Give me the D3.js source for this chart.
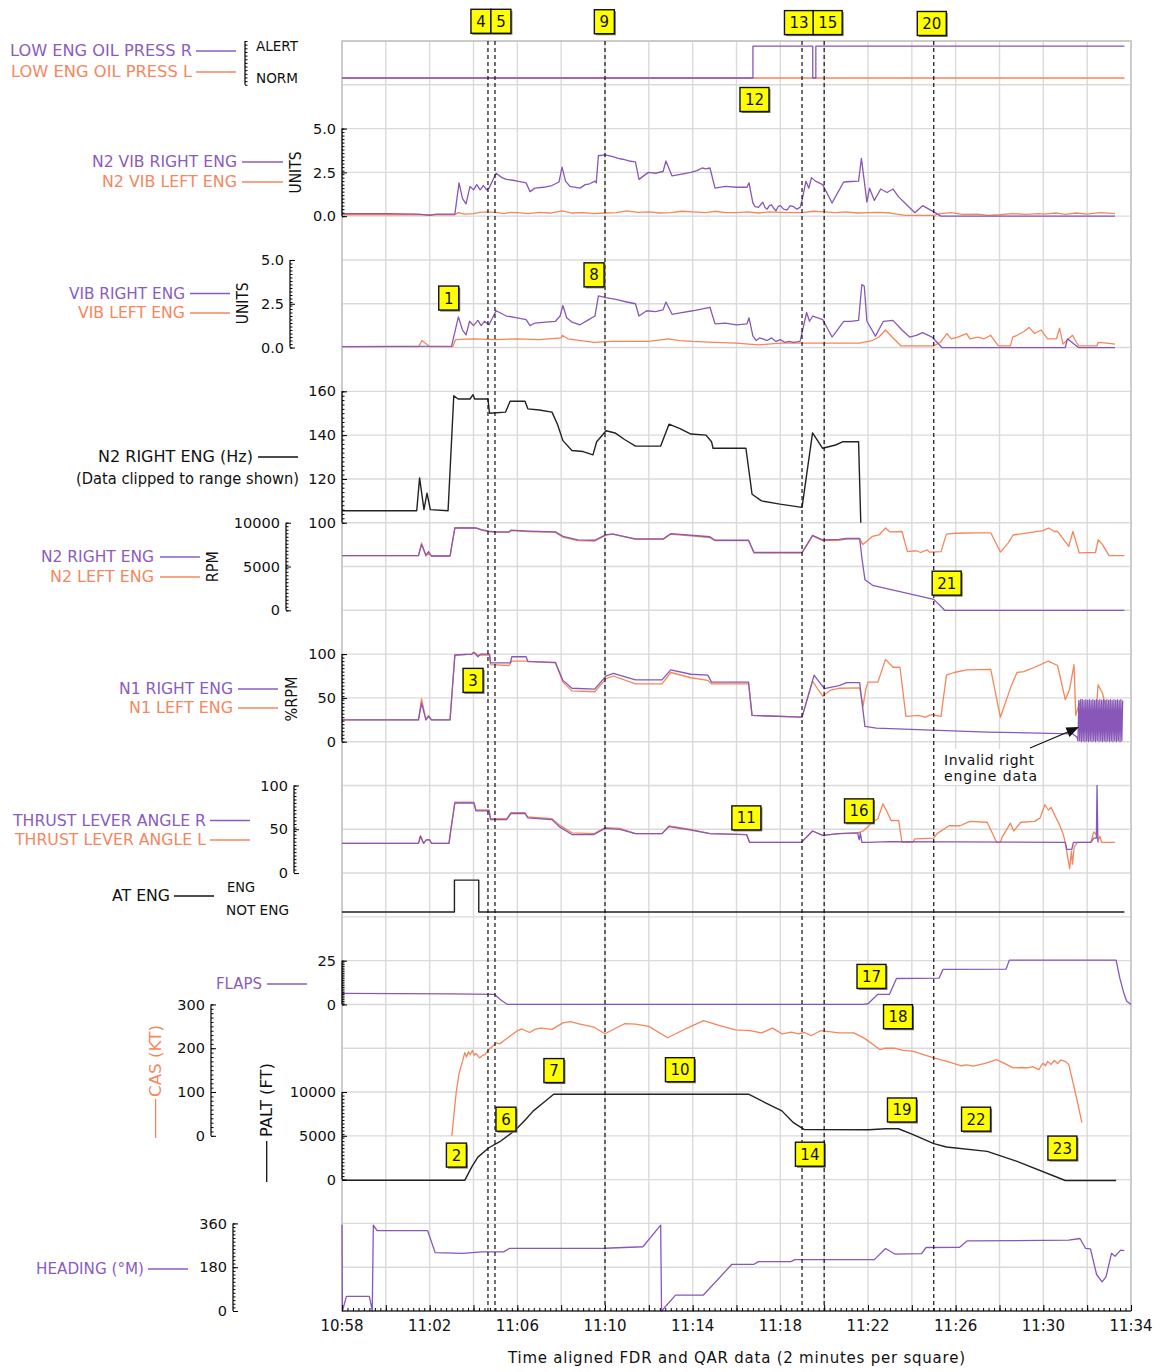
<!doctype html>
<html lang="en">
<head>
<meta charset="utf-8">
<title>Engine parameters, FDR and QAR data</title>
<script src="https://d3js.org/d3.v7.min.js"></script>
<style>
  body { margin: 0; background: #fff; }
  svg text { font-family: "DejaVu Sans", sans-serif; }
</style>
</head>
<body>
<svg id="chart" width="1163" height="1372"></svg>
<script>
// time is minutes after 10:58
const timeTicks = ['10:58','11:02','11:06','11:10','11:14','11:18','11:22','11:26','11:30','11:34'];

const OIL_R = [[0,0],[18.75,0],[18.75,1],[21.48,1],[21.48,0],[21.62,0],[21.62,1],[35.7,1]];
const OIL_L = [[0,0],[35.7,0]];

const N2VIB_R = [[0,0.15],[2,0.15],[3.5,0.12],[4.0,0.05],[4.3,0.12],[5.15,0.12],[5.34,1.9],[5.5,1.0],[5.66,0.7],[5.84,1.7],[6.0,1.5],[6.15,1.8],[6.3,1.5],[6.45,1.75],[6.6,1.5],[6.71,1.6],[7.03,2.45],[7.3,2.2],[7.5,2.1],[7.8,2.05],[8.0,2.0],[8.4,1.9],[8.58,1.4],[8.8,1.6],[9.2,1.65],[9.58,1.75],[9.9,1.95],[10.04,2.8],[10.2,2.0],[10.4,1.7],[10.86,1.6],[11.1,1.8],[11.3,1.85],[11.54,2.0],[11.6,1.9],[11.7,3.45],[12.0,3.5],[12.36,3.4],[12.6,3.3],[12.8,3.25],[13.1,3.15],[13.39,3.1],[13.55,2.1],[13.98,2.5],[14.3,2.45],[14.65,2.55],[14.78,3.15],[15.06,2.3],[15.5,2.4],[15.92,2.5],[16.2,2.6],[16.43,2.75],[16.6,2.7],[16.79,2.75],[17.02,1.6],[17.5,1.7],[18.0,1.65],[18.48,1.65],[18.57,1.9],[18.75,0.75],[18.85,0.55],[19.0,0.5],[19.1,0.65],[19.2,0.8],[19.3,0.5],[19.4,0.4],[19.5,0.6],[19.6,0.65],[19.7,0.45],[19.8,0.3],[19.9,0.55],[20.0,0.6],[20.15,0.4],[20.3,0.35],[20.45,0.6],[20.6,0.55],[20.75,0.4],[20.9,0.5],[20.99,0.9],[21.17,2.0],[21.3,1.6],[21.42,2.2],[21.6,2.0],[21.93,1.8],[22.36,0.75],[22.6,1.3],[22.89,1.95],[23.2,1.98],[23.57,2.0],[23.7,3.3],[23.95,0.8],[24.07,1.6],[24.29,0.9],[24.58,1.55],[24.87,1.35],[25.14,1.55],[25.4,1.1],[25.73,0.7],[26.14,0.2],[26.49,0.6],[26.92,0.3],[27.33,0.0],[35.27,0.0]];
const N2VIB_L = [[0,0.08],[5.15,0.08],[5.3,0.2],[5.6,0.12],[6.0,0.15],[6.3,0.22],[6.6,0.25],[7.0,0.22],[7.4,0.15],[7.7,0.22],[8.0,0.2],[8.5,0.15],[9.0,0.22],[9.5,0.18],[10.04,0.3],[10.5,0.18],[11.0,0.2],[11.5,0.15],[12.0,0.18],[12.5,0.2],[13.0,0.3],[13.5,0.22],[14.0,0.25],[14.5,0.18],[15.0,0.2],[15.5,0.28],[16.0,0.25],[16.6,0.2],[17.0,0.28],[17.5,0.2],[18.0,0.2],[18.5,0.25],[19.0,0.18],[19.5,0.25],[20.0,0.22],[20.5,0.2],[21.0,0.2],[21.5,0.28],[22.0,0.25],[22.5,0.2],[23.0,0.25],[23.5,0.18],[24.0,0.2],[24.5,0.22],[25.0,0.18],[25.7,0.05],[27.0,0.05],[27.3,0.15],[27.8,0.2],[28.3,0.1],[29.0,0.12],[29.5,0.05],[30.0,0.08],[30.6,0.15],[31.2,0.1],[31.8,0.15],[32.0,0.12],[32.6,0.18],[33.0,0.1],[33.5,0.18],[34.0,0.12],[34.6,0.2],[35.27,0.15]];

const VIB_R = [[0,0.05],[5.0,0.08],[5.31,1.75],[5.5,1.0],[5.66,0.72],[5.82,1.5],[6.0,1.25],[6.2,1.55],[6.35,1.25],[6.5,1.5],[6.71,1.3],[7.03,2.1],[7.5,1.8],[8.0,1.7],[8.4,1.6],[8.58,1.25],[8.8,1.4],[9.3,1.45],[9.74,1.5],[9.95,1.8],[10.08,2.4],[10.25,1.7],[10.5,1.45],[10.86,1.3],[11.2,1.55],[11.54,1.8],[11.7,2.95],[12.04,2.85],[12.5,2.75],[13.0,2.6],[13.39,2.5],[13.55,1.8],[13.9,2.1],[14.3,2.05],[14.65,2.15],[14.78,2.6],[15.06,1.9],[15.5,2.0],[16.0,2.1],[16.4,2.2],[16.79,2.3],[17.02,1.35],[17.5,1.4],[18.0,1.3],[18.48,1.35],[18.57,1.7],[18.75,0.65],[18.9,0.4],[19.05,0.55],[19.2,0.5],[19.4,0.4],[19.6,0.55],[19.8,0.35],[20.0,0.45],[20.2,0.3],[20.4,0.35],[20.6,0.3],[20.9,0.35],[21.2,2.0],[21.33,1.5],[21.48,1.8],[21.93,1.6],[22.36,0.6],[22.6,1.0],[22.89,1.5],[23.2,1.5],[23.57,1.55],[23.72,3.6],[23.83,3.5],[23.95,1.5],[24.34,0.65],[24.7,1.5],[25.14,1.55],[25.55,1.0],[25.9,0.6],[26.2,0.7],[26.49,0.85],[26.92,0.6],[27.37,0.0],[33.0,0.0],[33.1,0.5],[33.6,0.0],[35.27,0.0]];
const VIB_L = [[0,0.05],[3.5,0.05],[3.65,0.4],[4.0,0.05],[5.05,0.05],[5.18,0.45],[6.0,0.5],[7.0,0.45],[8.0,0.5],[9.0,0.45],[10.0,0.55],[10.05,0.7],[10.3,0.5],[11.5,0.3],[12.3,0.35],[13.0,0.35],[14.0,0.35],[14.9,0.5],[15.4,0.4],[16.0,0.35],[17.0,0.3],[18.0,0.25],[19.0,0.15],[20.0,0.25],[22.0,0.25],[23.6,0.25],[24.2,0.4],[24.5,0.6],[24.8,1.0],[25.1,0.6],[25.5,0.1],[27.0,0.1],[27.3,0.3],[27.6,0.8],[27.8,0.5],[28.1,0.6],[28.5,0.8],[28.65,0.5],[29.0,0.6],[29.3,0.5],[29.6,0.7],[29.95,0.1],[30.5,0.1],[30.6,0.6],[30.8,0.7],[31.1,0.9],[31.35,1.15],[31.6,0.8],[31.9,1.0],[32.2,0.5],[32.6,0.5],[32.74,1.1],[32.9,0.2],[33.33,0.7],[33.6,0.1],[34.45,0.1],[34.5,0.3],[34.9,0.25],[35.27,0.2]];

const N2HZ_R = [[0,105.5],[3.41,105.5],[3.54,120.5],[3.74,106],[3.88,113.5],[4.03,106],[4.84,105.5],[5.1,158],[5.3,156.5],[5.84,156.5],[5.98,158.5],[6.05,156.5],[6.66,156.5],[6.73,150],[7.46,150.5],[7.67,155.5],[8.35,155.5],[8.48,152],[9.0,151.5],[9.58,150.5],[9.83,145],[10.08,137.5],[10.49,133],[11.0,132.5],[11.45,131],[11.62,137],[12.05,142],[12.46,141],[12.89,138],[13.39,135],[14.54,135],[14.92,145],[15.42,143],[15.92,140.5],[16.61,140],[16.86,137],[16.93,134],[18.43,134],[18.71,113],[19.14,110],[19.98,108.5],[20.99,107],[21.47,141],[21.93,134],[22.52,135.5],[22.86,137],[23.57,137],[23.67,100]];

const N2RPM_R = [[0,6250],[3.49,6250],[3.63,7500],[3.83,6300],[3.95,6700],[4.08,6200],[4.93,6200],[5.15,9400],[6.11,9400],[6.36,9200],[6.71,9050],[7.03,8950],[7.62,8950],[7.71,9150],[8.48,9050],[9.74,8950],[10.08,8450],[10.76,8050],[11.53,8000],[12.05,8650],[12.36,8700],[13.39,8150],[14.65,8150],[15.0,8750],[16.79,8400],[17.02,8000],[18.55,8000],[18.8,6600],[20.99,6600],[21.47,8550],[21.93,8050],[22.68,8100],[23.03,8200],[23.62,8200],[23.72,6000],[23.86,3500],[24.21,2850],[27.0,1250],[27.5,0],[35.7,0]];
const N2RPM_L = [[0,6250],[3.49,6250],[3.63,7700],[3.83,6200],[3.95,6500],[4.08,6200],[4.93,6200],[5.15,9450],[6.11,9400],[6.36,9150],[6.71,8950],[7.03,8900],[7.62,8900],[7.71,9100],[8.48,9000],[9.74,8900],[10.08,8350],[10.76,7950],[11.53,7900],[12.05,8600],[12.36,8700],[13.39,8100],[14.65,8100],[15.0,8700],[16.79,8300],[17.02,7950],[18.55,7950],[18.8,6550],[20.99,6550],[21.47,8500],[21.93,7950],[22.68,8000],[23.03,8150],[23.62,8150],[23.76,7500],[24.0,8000],[24.2,8450],[24.5,8600],[24.8,9400],[25.0,8950],[25.55,9000],[25.8,6700],[26.2,6800],[26.4,6600],[26.7,6900],[26.8,6650],[27.33,6700],[27.58,8700],[28.0,8800],[29.0,8850],[29.6,8850],[30.04,6650],[30.4,7700],[30.62,8600],[31.3,8850],[32.0,9100],[32.23,9400],[32.5,9000],[32.65,9000],[33.16,7300],[33.35,9000],[33.64,6550],[34.38,6600],[34.5,8050],[34.7,7500],[35.0,6250],[35.7,6250]];

const N1_R = [[0,25],[3.49,25],[3.63,44],[3.83,25],[3.95,29],[4.08,25],[4.93,25],[5.15,99],[5.93,100],[6.02,102],[6.2,97],[6.33,100],[6.73,100],[6.78,90],[7.68,90],[7.75,97],[8.4,97],[8.48,91.5],[9.74,90.5],[10.08,70],[10.49,61],[11.53,60],[12.05,75],[12.38,78],[13.39,70.5],[14.6,70.5],[15.0,82],[15.92,77],[16.69,76],[16.86,68],[18.55,68],[18.71,30],[20.99,28],[21.54,76],[22.01,60.5],[22.68,64],[23.03,67.5],[23.62,67.5],[23.86,17.5],[24.38,15.5],[29.45,11],[33.33,9],[33.54,5],
  [33.58,1],[33.62,47],[33.66,1],[33.70,48],[33.74,0],[33.78,48],[33.82,1],[33.86,47],[33.90,0],[33.94,48],[33.98,1],[34.02,47],[34.06,0],[34.10,48],[34.14,1],[34.18,47],[34.22,0],[34.26,48],[34.30,1],[34.34,47],[34.38,0],[34.42,48],[34.46,1],[34.50,47],[34.54,0],[34.58,48],[34.62,1],[34.66,47],[34.70,0],[34.74,48],[34.78,1],[34.82,47],[34.86,0],[34.90,48],[34.94,1],[34.98,47],[35.02,0],[35.06,48],[35.10,1],[35.14,47],[35.18,0],[35.22,48],[35.26,1],[35.30,47],[35.34,0],[35.38,48],[35.42,1],[35.46,47],[35.50,0],[35.54,48],[35.58,1],[35.62,47]];
const N1_L = [[0,25],[3.49,25],[3.63,49],[3.83,25],[3.95,30],[4.08,25],[4.93,25],[5.15,99],[5.93,100],[6.02,102],[6.2,99],[6.73,99],[6.78,88],[7.62,87],[7.75,92],[8.4,92],[9.74,90],[10.08,68],[10.49,58],[11.53,57],[12.05,72],[12.38,75],[13.39,66],[14.6,66],[15.0,79],[15.92,73],[16.69,70],[16.86,66],[18.55,66],[18.71,30],[20.99,28],[21.47,69],[21.93,52],[22.3,59],[22.68,61],[23.62,61.5],[23.77,40],[23.9,60],[24.0,68],[24.45,68],[24.8,94],[25.14,85],[25.46,85],[25.73,29],[26.3,30],[26.6,28],[26.9,31],[27.33,29],[27.58,76],[27.93,79],[28.5,82],[29.6,82.5],[30.04,28],[30.54,64],[30.8,79],[31.1,80],[31.6,85],[32.23,92],[32.65,87],[33.0,48],[33.2,60],[33.4,88],[33.48,30],[33.64,44],[33.9,25],[34.38,25],[34.5,65],[34.7,55],[35.0,25],[35.62,25]];

const TLA_R = [[0,34],[3.49,34],[3.58,42],[3.72,34],[3.85,38],[4.0,38],[4.08,34],[4.88,34],[4.97,50],[5.15,80],[6.02,80],[6.11,71],[6.71,71],[6.78,61],[7.51,61],[7.71,68],[8.35,68],[8.48,63],[9.58,61],[9.91,53],[10.49,44],[11.5,44],[12.0,51],[12.68,50],[13.39,45],[14.6,45],[14.92,53],[15.92,49],[16.79,45],[18.46,44],[18.6,35],[20.96,35],[21.47,48],[21.93,43],[22.68,45],[23.53,46],[23.6,38],[23.65,46],[23.72,35],[24.0,35],[25.0,36],[33.0,35],[33.07,27],[33.3,27],[33.37,35],[34.17,35],[34.3,40],[34.42,40],[34.45,100],[34.49,36],[34.52,35]];
const TLA_L = [[0,34],[3.49,34],[3.58,43],[3.72,34],[3.85,38],[4.0,38],[4.08,34],[4.88,34],[4.97,50],[5.15,81],[6.02,81],[6.11,72],[6.71,72],[6.78,62],[7.51,62],[7.71,69],[8.35,69],[8.48,64],[9.58,62],[9.91,55],[10.49,46],[11.5,45],[12.0,52],[12.68,51],[13.39,45],[14.6,45],[14.92,54],[15.92,50],[16.79,45],[18.46,44],[18.6,35],[20.96,35],[21.47,48],[21.93,43],[22.68,45],[23.53,46],[23.77,48],[24.0,53],[24.2,58],[24.45,62],[24.68,79],[24.87,70],[25.05,60],[25.4,60],[25.55,35],[26.05,35],[26.14,39],[27.0,40],[27.15,45],[27.7,54],[28.2,54],[28.65,59],[29.44,58],[29.87,35],[30.04,35],[30.12,41],[30.5,57],[30.65,48],[30.97,58],[31.6,59],[31.85,63],[32.07,78],[32.23,72],[32.35,75],[32.6,62],[32.74,55],[32.9,45],[33.0,35],[33.1,20],[33.2,5],[33.28,25],[33.33,10],[33.41,30],[33.55,35],[34.17,35],[34.3,47],[34.42,44],[34.5,38],[34.58,42],[34.66,35],[35.27,35]];

const AT_ENG = [[0,0],[5.13,0],[5.13,1],[6.24,1],[6.24,0],[35.7,0]];

const FLAPS = [[0,6.3],[5,6],[6.95,5.8],[7.25,2.5],[7.55,0],[23.77,0],[24.0,0.4],[24.45,5.8],[24.98,5.8],[25.3,14.8],[27.24,15],[27.42,20],[30.3,20.2],[30.45,25.3],[35.32,25.3],[35.49,15],[35.66,7],[35.8,2],[36.0,0]];

const CAS = [[5.01,0],[5.21,99],[5.35,144],[5.52,174],[5.6,190],[5.68,180],[5.77,192],[5.85,185],[5.95,195],[6.03,184],[6.11,188],[6.28,178],[6.4,183],[6.53,186],[6.7,197],[7.04,212],[7.2,210],[7.38,217],[7.6,225],[7.97,239],[8.21,244],[8.56,236],[8.8,243],[9.07,246],[9.58,243],[10.08,258],[10.42,261],[10.86,255],[11.5,248],[12.0,233],[12.89,256],[13.39,255],[14.0,250],[14.86,224],[15.7,245],[16.5,263],[17.2,252],[17.95,242],[18.6,240],[19.14,235],[19.64,246],[20.07,233],[20.5,237],[20.83,233],[21.1,236],[21.42,229],[21.84,240],[22.68,235],[23.36,235],[23.86,222],[24.54,197],[24.8,200],[25.2,200],[25.6,195],[26.06,193],[27.0,178],[27.6,170],[28.26,160],[28.5,162],[28.8,159],[29.3,165],[29.87,174],[30.63,155],[31.0,156],[31.3,155],[31.5,158],[31.8,151],[31.9,160],[32.0,166],[32.1,160],[32.2,170],[32.35,163],[32.5,172],[32.65,165],[32.8,173],[33.0,170],[33.16,163],[33.5,90],[33.76,30]];

const PALT = [[0,-80],[5.6,-80],[5.94,1540],[6.2,2570],[6.7,3640],[7.2,4330],[7.88,5580],[8.39,6900],[8.73,7850],[9.2,8800],[9.66,9750],[18.55,9750],[19.3,8800],[20.07,7850],[20.6,6500],[21.08,5730],[24.04,5700],[24.8,5800],[25.39,5810],[26.06,5140],[27.0,4110],[27.58,3720],[29.44,3230],[30.8,2080],[33.0,-100],[35.32,-100]];

const HEADING = [[0,355],[0.02,0],[0.2,60],[1.25,60],[1.38,0],[1.43,353],[1.6,330],[3.91,330],[4.25,240],[5.52,237],[6.36,243],[7.38,243],[7.63,257],[12.0,258],[13.73,264],[14.54,353],[14.58,0],[15.22,65],[16.48,65],[17.79,192],[18.8,192],[19.0,203],[20.48,203],[20.66,211],[24.29,211],[24.8,257],[25.22,234],[26.44,236],[26.65,261],[28.18,262],[28.52,288],[33.16,291],[33.67,298],[33.93,257],[34.15,255],[34.43,150],[34.68,120],[34.86,140],[35.11,237],[35.27,225],[35.53,250],[35.7,248]];

// event markers (dashed lines), minutes after 10:58
const eventTimes = [6.66, 6.98, 12.0, 20.99, 22.0, 27.0];
// numbered callouts: label, time (x) and grid row (y)
const callouts = [
  ['4',6.34,-0.45],['5',7.25,-0.45],['9',11.97,-0.44],['13',20.85,-0.42],['15',22.16,-0.42],['20',26.91,-0.4],
  ['12',18.82,1.336],['1',4.87,5.87],['8',11.5,5.34],['3',5.98,14.6],['21',27.59,12.38],['11',18.45,17.74],
  ['16',23.59,17.58],['17',24.16,21.36],['18',25.37,22.28],['2',5.22,25.44],['6',7.48,24.62],['7',9.67,23.51],
  ['10',15.42,23.49],['19',25.55,24.41],['22',28.93,24.62],['14',21.35,25.42],['23',32.87,25.28]
];

const PURPLE = '#8857b8', ORANGE = '#f6855a', BLACK = '#222';
const PURPLE_T = '#8a5cc0', ORANGE_T = '#f4875f';

const svg = d3.select('#chart');
const x = d3.scaleLinear().domain([0, 36]).range([342, 1131]);
const gy = d3.scaleLinear().domain([0, 29]).range([41, 1311]);

function panel(lo, hi, rowBottom, rowTop) {
  return d3.scaleLinear().domain([lo, hi]).range([gy(rowBottom), gy(rowTop)]);
}
const yOil = panel(0, 1, 0.845, 0.115);
const yN2vib = panel(0, 5, 4, 2);
const yVib = panel(0, 5, 7, 5);
const yN2hz = panel(100, 160, 11, 8);
const yRpm = panel(0, 10000, 13, 11);
const yN1 = panel(0, 100, 16, 14);
const yTla = panel(0, 100, 19, 17);
const yAt = panel(0, 1, 19.89, 19.16);
const yFlaps = panel(0, 25, 22, 21);
const yCas = panel(0, 300, 25, 22);
const yPalt = panel(0, 10000, 26, 24);
const yHdg = panel(0, 360, 29, 27);

// grid
const grid = svg.append('g');
grid.selectAll('line.v').data(d3.range(0, 37, 2)).enter().append('line')
  .attr('x1', d => x(d)).attr('x2', d => x(d)).attr('y1', gy(0)).attr('y2', gy(29))
  .attr('stroke', '#dadada').attr('stroke-width', 1.4);
grid.selectAll('line.h').data(d3.range(0, 30)).enter().append('line')
  .attr('x1', x(0)).attr('x2', x(36)).attr('y1', d => gy(d)).attr('y2', d => gy(d))
  .attr('stroke', '#dadada').attr('stroke-width', 1.4);
svg.append('rect').attr('x', x(0)).attr('y', gy(0)).attr('width', x(36) - x(0)).attr('height', gy(29) - gy(0))
  .attr('fill', 'none').attr('stroke', '#c4c4c4').attr('stroke-width', 1.5);

// invalid data note (white box over grid)
svg.append('rect').attr('x', 939).attr('y', 749).attr('width', 102).attr('height', 36).attr('fill', '#fff');

// series
const series = [
  [OIL_L, yOil, ORANGE], [OIL_R, yOil, PURPLE],
  [N2VIB_L, yN2vib, ORANGE], [N2VIB_R, yN2vib, PURPLE],
  [VIB_L, yVib, ORANGE], [VIB_R, yVib, PURPLE],
  [N2HZ_R, yN2hz, BLACK],
  [N2RPM_L, yRpm, ORANGE], [N2RPM_R, yRpm, PURPLE],
  [N1_L, yN1, ORANGE], [N1_R, yN1, PURPLE],
  [TLA_L, yTla, ORANGE], [TLA_R, yTla, PURPLE],
  [AT_ENG, yAt, BLACK],
  [FLAPS, yFlaps, PURPLE],
  [CAS, yCas, ORANGE],
  [PALT, yPalt, BLACK],
  [HEADING, yHdg, PURPLE]
];
series.forEach(([data, ys, color]) => {
  svg.append('path').datum(data)
    .attr('d', d3.line().x(d => x(d[0])).y(d => ys(d[1])))
    .attr('fill', 'none').attr('stroke', color)
    .attr('stroke-width', color === BLACK ? 1.4 : 1.3)
    .attr('stroke-linejoin', 'round');
});

// event lines
svg.selectAll('line.ev').data(eventTimes).enter().append('line')
  .attr('x1', d => x(d)).attr('x2', d => x(d)).attr('y1', gy(0)).attr('y2', gy(29))
  .attr('stroke', '#111').attr('stroke-width', 1.2).attr('stroke-dasharray', '4,3');

// y axes
function yAxis(ys, ax, labels, fmt, minorStep) {
  const g = svg.append('g').attr('transform', `translate(${ax},0)`);
  const [lo, hi] = ys.domain();
  g.call(d3.axisLeft(ys).tickValues(d3.range(lo, hi + minorStep / 2, minorStep))
    .tickSize(-2.5).tickFormat(''));
  const major = g.append('g').call(d3.axisLeft(ys).tickValues(labels).tickSize(-5)
    .tickPadding(6).tickFormat(labels.length ? d3.format(fmt) : ''));
  g.selectAll('path.domain').remove();
  g.append('line').attr('y1', ys.range()[0]).attr('y2', ys.range()[1]).attr('stroke', '#000').attr('stroke-width', 1.2);
  g.selectAll('line').attr('stroke', '#000');
  major.selectAll('text').attr('font-size', 14.5).attr('fill', '#111');
  return g;
}
yAxis(yN2vib, 342, [0, 2.5, 5], '.1f', 0.2);
yAxis(yVib, 290, [0, 2.5, 5], '.1f', 0.2);
yAxis(yN2hz, 342, [100, 120, 140, 160], 'd', 2);
yAxis(yRpm, 286, [0, 5000, 10000], 'd', 400);
yAxis(yN1, 342, [0, 50, 100], 'd', 4);
yAxis(yTla, 294, [0, 50, 100], 'd', 4);
yAxis(yFlaps, 342, [0, 25], 'd', 1);
yAxis(yCas, 211, [0, 100, 200, 300], 'd', 10);
yAxis(yPalt, 342, [0, 5000, 10000], 'd', 400);
yAxis(yHdg, 233, [0, 180, 360], 'd', 15);
yAxis(d3.scaleLinear().domain([0, 1]).range([gy(1), gy(0)]), 245, [], '', 1 / 12);

// x axis
const xg = svg.append('g').attr('transform', `translate(0,${gy(29)})`);
xg.call(d3.axisTop(x).tickValues(d3.range(0, 36.01, 0.25)).tickSize(3).tickFormat(''));
xg.call(g => g.append('g').call(d3.axisTop(x).tickValues(d3.range(0, 37, 2)).tickSize(6).tickFormat('')));
xg.selectAll('path.domain').remove();
xg.append('line').attr('x1', x(0)).attr('x2', x(36)).attr('stroke', '#000').attr('stroke-width', 1.2);
xg.selectAll('line').attr('stroke', '#000');
svg.selectAll('text.xt').data(timeTicks).enter().append('text')
  .attr('x', (d, i) => x(i * 4)).attr('y', 1331).attr('text-anchor', 'middle')
  .attr('font-size', 15).attr('fill', '#111').text(d => d);
svg.append('text').attr('x', 736.5).attr('y', 1363).attr('text-anchor', 'middle')
  .attr('font-size', 15).attr('fill', '#111').attr('textLength', 457).text('Time aligned FDR and QAR data (2 minutes per square)');

// legends: text, colour, text left/right, y, line x1/x2
const legends = [
  ['LOW ENG OIL PRESS R', PURPLE_T, 10, 192, 51, 196, 236],
  ['LOW ENG OIL PRESS L', ORANGE_T, 11, 192, 72, 196, 236],
  ['N2 VIB RIGHT ENG', PURPLE_T, 92, 237, 162, 242, 283],
  ['N2 VIB LEFT ENG', ORANGE_T, 102, 237, 182, 242, 283],
  ['VIB RIGHT ENG', PURPLE_T, 69, 185, 293.5, 190, 230],
  ['VIB LEFT ENG', ORANGE_T, 78, 185, 313, 190, 230],
  ['N2 RIGHT ENG (Hz)', '#111', 98, 253, 457, 258, 298],
  ['(Data clipped to range shown)', '#111', 76, 299, 479, null, null],
  ['N2 RIGHT ENG', PURPLE_T, 41, 154, 557, 160, 200],
  ['N2 LEFT ENG', ORANGE_T, 50, 154, 577, 160, 200],
  ['N1 RIGHT ENG', PURPLE_T, 119, 233, 689, 238, 278],
  ['N1 LEFT ENG', ORANGE_T, 129, 233, 708, 238, 278],
  ['THRUST LEVER ANGLE R', PURPLE_T, 13, 206, 820.5, 210, 250],
  ['THRUST LEVER ANGLE L', ORANGE_T, 15, 206, 840, 210, 250],
  ['AT ENG', '#111', 112, 170, 896, 174, 214],
  ['FLAPS', PURPLE_T, 216, 262, 984, 267, 307],
  ['HEADING (\u00b0M)', PURPLE_T, 36, 144, 1269, 148, 188],
  ['ALERT', '#111', 256, 298, 46, null, null],
  ['NORM', '#111', 256, 298, 78, null, null],
  ['ENG', '#111', 227, 255, 887, null, null],
  ['NOT ENG', '#111', 226, 289, 910, null, null]
];
legends.forEach(([t, c, x0, x1, yy, l0, l1]) => {
  svg.append('text').attr('x', x0).attr('y', yy).attr('dominant-baseline', 'central')
    .attr('font-size', t === t.toUpperCase() && t.length < 9 && l0 === null ? 14 : 15)
    .attr('fill', c).attr('textLength', x1 - x0).attr('lengthAdjust', 'spacingAndGlyphs').text(t);
  if (l0 !== null) {
    svg.append('line').attr('x1', l0).attr('x2', l1).attr('y1', yy).attr('y2', yy)
      .attr('stroke', c).attr('stroke-width', 1.3);
  }
});

// rotated unit labels: text, colour, cx, cy, length
const unitLabels = [
  ['UNITS', '#111', 296, 172.5, 42],
  ['UNITS', '#111', 242.6, 303.3, 42],
  ['RPM', '#111', 213, 566.7, 31],
  ['%RPM', '#111', 291.5, 699, 45],
  ['CAS (KT)', ORANGE_T, 155.6, 1061, 72],
  ['PALT (FT)', '#111', 266.7, 1100, 74]
];
unitLabels.forEach(([t, c, cx, cy, len]) => {
  svg.append('text').attr('transform', `translate(${cx},${cy}) rotate(-90)`)
    .attr('text-anchor', 'middle').attr('dominant-baseline', 'central')
    .attr('font-size', 15).attr('fill', c).attr('textLength', len).attr('lengthAdjust', 'spacingAndGlyphs').text(t);
});
svg.append('line').attr('x1', 155.6).attr('x2', 155.6).attr('y1', 1099).attr('y2', 1138).attr('stroke', ORANGE).attr('stroke-width', 1.3);
svg.append('line').attr('x1', 266.7).attr('x2', 266.7).attr('y1', 1141).attr('y2', 1182).attr('stroke', '#111').attr('stroke-width', 1.3);

// invalid data annotation
svg.append('text').attr('x', 944).attr('y', 760).attr('dominant-baseline', 'central').attr('font-size', 14)
  .attr('fill', '#111').attr('textLength', 90).text('Invalid right');
svg.append('text').attr('x', 944).attr('y', 776).attr('dominant-baseline', 'central').attr('font-size', 14)
  .attr('fill', '#111').attr('textLength', 93).text('engine data');
svg.append('line').attr('x1', 1030).attr('y1', 748).attr('x2', 1069).attr('y2', 731.5).attr('stroke', '#111').attr('stroke-width', 1.3);
svg.append('path').attr('d', 'M1079,727 L1065.5,727.5 L1069.5,737 Z').attr('fill', '#111');

// callout boxes
const cg = svg.selectAll('g.callout').data(callouts).enter().append('g')
  .attr('transform', d => `translate(${x(d[1])},${gy(d[2])})`);
cg.append('rect').attr('x', d => -(d[0].length > 1 ? 14.5 : 10) + 1.5).attr('y', -12 + 1.5)
  .attr('width', d => d[0].length > 1 ? 29 : 20).attr('height', 24).attr('fill', '#777');
cg.append('rect').attr('x', d => -(d[0].length > 1 ? 14.5 : 10)).attr('y', -12)
  .attr('width', d => d[0].length > 1 ? 29 : 20).attr('height', 24)
  .attr('fill', '#ffff00').attr('stroke', '#111').attr('stroke-width', 1.4);
cg.append('text').attr('text-anchor', 'middle').attr('dominant-baseline', 'central').attr('y', 0.5)
  .attr('font-size', 15).attr('fill', '#111').text(d => d[0]);
</script>
</body>
</html>
